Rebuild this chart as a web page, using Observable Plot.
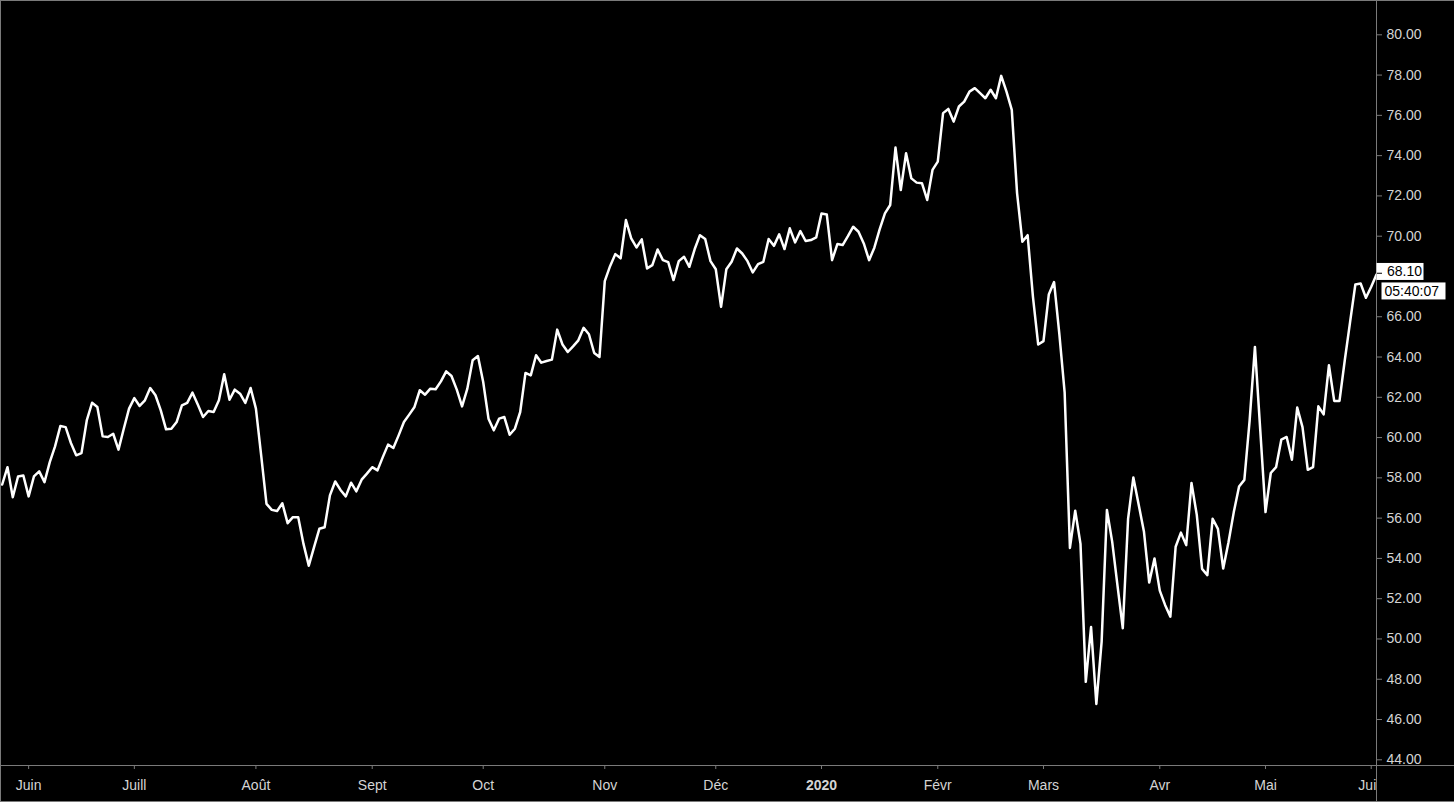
<!DOCTYPE html>
<html><head><meta charset="utf-8">
<script src="https://cdn.jsdelivr.net/npm/d3@7"></script>
<script src="https://cdn.jsdelivr.net/npm/@observablehq/plot@0.6"></script>
<style>
html,body{margin:0;padding:0;background:#000;}
#chart svg{display:block;}
</style></head><body><div id="chart"></div>
<script>
const closes = [
  57.67, 58.53, 57.04, 58.07, 58.12, 57.08, 58.07, 58.32, 57.79, 58.78,
  59.56, 60.57, 60.52, 59.73, 59.12, 59.23, 60.85, 61.73, 61.52, 60.06,
  60.03, 60.19, 59.40, 60.44, 61.44, 61.96, 61.57, 61.85, 62.46, 62.10,
  61.35, 60.41, 60.44, 60.77, 61.60, 61.72, 62.23, 61.64, 61.02, 61.32,
  61.27, 61.85, 63.14, 61.88, 62.38, 62.18, 61.72, 62.46, 61.44, 59.10,
  56.71, 56.41, 56.35, 56.74, 55.75, 56.05, 56.05, 54.72, 53.64, 54.56,
  55.47, 55.55, 57.13, 57.82, 57.40, 57.08, 57.76, 57.33, 57.91, 58.21,
  58.53, 58.37, 59.03, 59.65, 59.48, 60.11, 60.77, 61.14, 61.52, 62.35,
  62.13, 62.43, 62.40, 62.79, 63.29, 63.06, 62.38, 61.55, 62.43, 63.84,
  64.05, 62.76, 60.94, 60.36, 60.94, 61.02, 60.14, 60.44, 61.27, 63.21,
  63.09, 64.09, 63.72, 63.80, 63.87, 65.36, 64.62, 64.25, 64.53, 64.83,
  65.45, 65.13, 64.20, 64.00, 67.77, 68.51, 69.11, 68.90, 70.80, 69.89,
  69.44, 69.84, 68.40, 68.56, 69.34, 68.81, 68.71, 67.82, 68.76, 68.98,
  68.48, 69.35, 70.05, 69.86, 68.76, 68.36, 66.49, 68.36, 68.73, 69.39,
  69.14, 68.76, 68.20, 68.61, 68.73, 69.86, 69.52, 70.09, 69.36, 70.39,
  69.69, 70.25, 69.76, 69.81, 69.94, 71.13, 71.08, 68.81, 69.61, 69.56,
  70.00, 70.47, 70.22, 69.64, 68.81, 69.43, 70.34, 71.13, 71.55, 74.40,
  72.29, 74.12, 72.87, 72.66, 72.63, 71.80, 73.29, 73.70, 76.11, 76.32,
  75.69, 76.44, 76.68, 77.18, 77.35, 77.10, 76.85, 77.27, 76.85, 77.96,
  77.18, 76.27, 72.14, 69.72, 70.05, 67.00, 64.62, 64.79, 67.10, 67.72,
  65.14, 62.25, 54.52, 56.37, 54.72, 47.87, 50.59, 46.77, 49.87, 56.41,
  54.82, 52.65, 50.53, 55.96, 58.02, 56.68, 55.34, 52.80, 54.00, 52.40,
  51.69, 51.11, 54.58, 55.28, 54.66, 57.75, 56.16, 53.48, 53.17, 55.97,
  55.47, 53.50, 54.80, 56.30, 57.57, 57.90, 60.85, 64.50, 60.41, 56.30,
  58.24, 58.53, 59.90, 60.03, 58.90, 61.49, 60.52, 58.40, 58.53, 61.55,
  61.15, 63.59, 61.82, 61.82, 63.84, 65.73, 67.60, 67.65, 66.94, 67.49,
  68.10
];
const monthLabels = ["Juin","Juill","Août","Sept","Oct","Nov","Déc","2020","Févr","Mars","Avr","Mai","Juin"];
const monthIdx    = [5, 25, 48, 70, 91, 114, 135, 155, 177, 197, 219, 239, 259];
// 68.00 is hidden behind the last-price label in the reference
const yTicks = [44,46,48,50,52,54,56,58,60,62,64,66,70,72,74,76,78,80];
const lastPriceText = "68.10";
const countdownText = "05:40:07";

const data = closes.map((v, i) => ({i, v}));
const FONT = '"Liberation Sans", Arial, sans-serif';
const AXIS_LINE = "#7a7a7a";
const AXIS_TEXT = "#d4d4d4";

const chart = Plot.plot({
  width: 1454, height: 802,
  marginTop: 0, marginRight: 78, marginBottom: 37, marginLeft: 0,
  style: {background: "#000", color: AXIS_TEXT, fontFamily: FONT, fontSize: "14px"},
  x: {type: "linear", domain: [0, closes.length - 1], range: [1.7, 1376]},
  y: {domain: [44, 80], range: [759.3, 34.3]},
  marks: [
    Plot.axisY(yTicks, {anchor: "right", tickSize: 5, tickPadding: 5, tickFormat: d => d.toFixed(2),
      stroke: AXIS_LINE, fill: AXIS_TEXT, fontSize: 14, label: null}),
    Plot.axisX(monthIdx, {anchor: "bottom", tickSize: 4, tickPadding: 11,
      tickFormat: d => monthLabels[monthIdx.indexOf(d)],
      stroke: AXIS_LINE, fill: AXIS_TEXT, fontSize: 14, label: null}),
    Plot.line(data, {x: "i", y: "v", stroke: "#ffffff", strokeWidth: 2.5})
  ]
});
document.getElementById("chart").appendChild(chart);

const svg = d3.select(chart);
const defs = svg.insert("defs", ":first-child");
defs.append("clipPath").attr("id", "clipx").append("rect")
  .attr("x", 0).attr("y", 0).attr("width", 1376).attr("height", 802);
svg.selectAll('g[aria-label="x-axis tick label"]').attr("clip-path", "url(#clipx)");
svg.selectAll('g[aria-label="x-axis tick label"] text')
  .filter(function() { return this.textContent === "2020"; })
  .attr("font-weight", "bold");

// panel borders
const b = svg.append("g").attr("stroke", AXIS_LINE).attr("stroke-width", 1);
b.append("line").attr("x1", 0).attr("x2", 1454).attr("y1", 765.5).attr("y2", 765.5);
b.append("line").attr("x1", 1376.5).attr("x2", 1376.5).attr("y1", 0).attr("y2", 802);
b.append("line").attr("x1", 0).attr("x2", 1454).attr("y1", 0.5).attr("y2", 0.5);
b.append("line").attr("x1", 0.5).attr("x2", 0.5).attr("y1", 0).attr("y2", 802);
b.append("line").attr("x1", 0).attr("x2", 1454).attr("y1", 801.5).attr("y2", 801.5);

// last price label
const py = chart.scale("y").apply(closes[closes.length - 1]);
const lab = svg.append("g").attr("font-family", FONT).attr("font-size", 14).attr("text-anchor", "start");
lab.append("rect").attr("x", 1376.5).attr("y", py - 11).attr("width", 47).attr("height", 17).attr("fill", "#fff");
lab.append("line").attr("x1", 1377).attr("x2", 1382).attr("y1", py - 0.7).attr("y2", py - 0.7).attr("stroke", "#000");
lab.append("text").attr("x", 1387).attr("y", py - 2.5).attr("dy", "0.35em").attr("fill", "#000").text(lastPriceText);
lab.append("rect").attr("x", 1381.5).attr("y", py + 8.5).attr("width", 64).attr("height", 17).attr("fill", "#fff");
lab.append("text").attr("x", 1384.5).attr("y", py + 17).attr("dy", "0.35em").attr("fill", "#000").text(countdownText);
</script>
</body></html>
